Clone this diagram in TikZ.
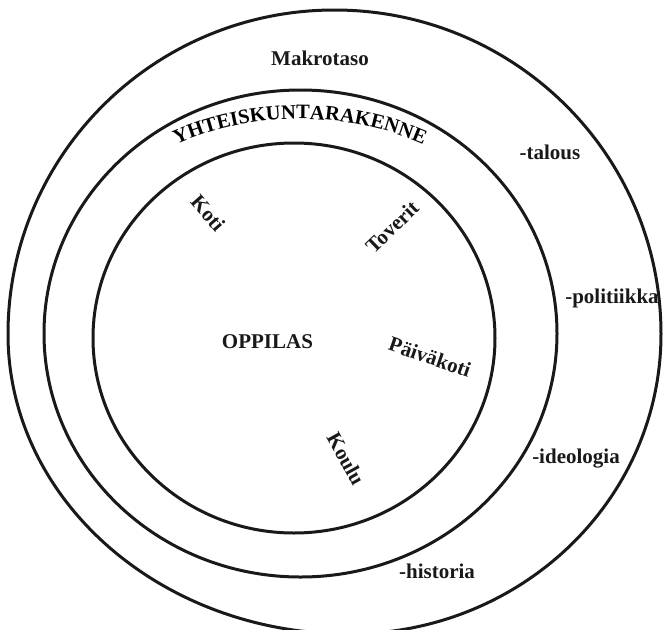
\documentclass[tikz,border=0pt]{standalone}
\usepackage{fontspec}
\setmainfont{Liberation Serif}
\usetikzlibrary{decorations.text}
\begin{document}
\begin{tikzpicture}[x=1pt,y=1pt,
  ring/.style={draw=black!90, line width=3pt},
  lbl/.style={font=\bfseries\fontsize{21}{25}\selectfont, inner sep=0pt, text=black!90}]
\useasboundingbox (0,0) rectangle (665,-630);

% outer level: slightly egg-shaped, running off the lower edge
\draw[ring] (8,-334)
  arc[start angle=180, end angle=0, x radius=326.5, y radius=324]
  arc[start angle=0, end angle=-90, x radius=312, y radius=300]
  arc[start angle=270, end angle=180, x radius=341, y radius=300] -- cycle;
% middle and inner levels
\draw[ring] (300.5,-333.5) ellipse [x radius=256.5, y radius=243.5];
\draw[ring] (294,-338) ellipse [x radius=201, y radius=195];

% outer level
\node[lbl, anchor=base] (makro) at (320,-65) {Makrotaso};
\node[lbl, anchor=base] (talous) at (550,-159) {-talous};
\node[lbl, anchor=base] (politiikka) at (612,-303) {-politiikka};
\node[lbl, anchor=base] (ideologia) at (576,-463) {-ideologia};
\node[lbl, anchor=base] (historia) at (437,-578) {-historia};

% middle level, lettered along its arc
\path[decorate, decoration={text along path,
    text={|\bfseries\fontsize{20.5}{24}\selectfont|YHTEISKUNTARAKENNE},
    text align=center}]
  (300,-335) ++(160:262 and 216) arc[start angle=160, end angle=20, x radius=262, y radius=216];

% inner level
\node[lbl, anchor=base] (oppilas) at (267.5,-348) {OPPILAS};
\node[lbl, rotate=-49] (koti) at (208,-213) {Koti};
\node[lbl, rotate=44] (toverit) at (392,-227) {Toverit};
\node[lbl, rotate=-19] (paivakoti) at (430,-357) {Päiväkoti};
\node[lbl, rotate=-61] (koulu) at (346,-459) {Koulu};
\end{tikzpicture}
\end{document}
